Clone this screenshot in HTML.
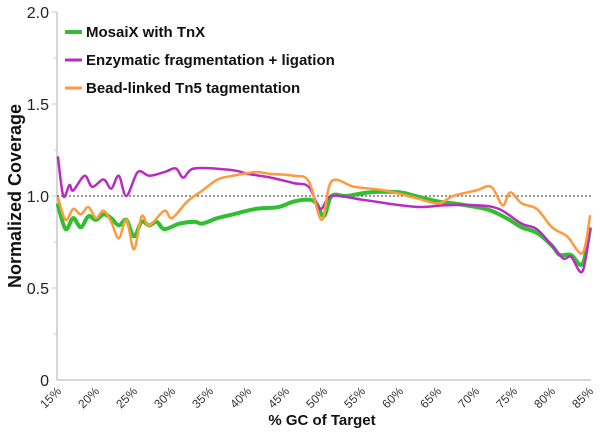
<!DOCTYPE html>
<html><head><meta charset="utf-8"><style>
html,body{margin:0;padding:0;background:#fff;}
svg{display:block;font-family:"Liberation Sans",Arial,sans-serif;}
</style></head><body>
<svg id="s" width="600" height="439" viewBox="0 0 600 439">
<line x1="57" y1="12" x2="57" y2="380" stroke="#c8c8c8" stroke-width="1.5"/>
<line x1="57" y1="380" x2="591" y2="380" stroke="#c8c8c8" stroke-width="1.5"/>
<g stroke="#c8c8c8" stroke-width="1">
<line x1="52" y1="12" x2="57" y2="12"/><line x1="54" y1="58" x2="57" y2="58"/>
<line x1="52" y1="104" x2="57" y2="104"/><line x1="54" y1="150" x2="57" y2="150"/>
<line x1="52" y1="196" x2="57" y2="196"/><line x1="54" y1="242" x2="57" y2="242"/>
<line x1="52" y1="288" x2="57" y2="288"/><line x1="54" y1="334" x2="57" y2="334"/>
</g>
<g font-size="16" fill="#222" text-anchor="end">
<text x="49" y="18">2.0</text><text x="49" y="110">1.5</text>
<text x="49" y="202">1.0</text><text x="49" y="294">0.5</text><text x="49" y="386">0</text>
</g>
<line x1="57" y1="196" x2="591" y2="196" stroke="#333" stroke-width="1" stroke-dasharray="2,2"/>
<g id="xt" font-size="12" fill="#333" text-anchor="end"></g>
<text transform="translate(21,196) rotate(-90)" text-anchor="middle" font-size="18" font-weight="bold" fill="#111">Normalized Coverage</text>
<text x="322" y="425" text-anchor="middle" font-size="15" font-weight="bold" fill="#111">% GC of Target</text>
<g id="lines" fill="none" stroke-linejoin="round" stroke-linecap="round"></g>
<g font-size="15" font-weight="bold" fill="#111">
<line x1="65" y1="32" x2="82" y2="32" stroke="#2fbf2f" stroke-width="4"/>
<text x="86" y="37">MosaiX with TnX</text>
<line x1="65" y1="60" x2="82" y2="60" stroke="#b82cc4" stroke-width="3"/>
<text x="86" y="65">Enzymatic fragmentation + ligation</text>
<line x1="65" y1="88" x2="82" y2="88" stroke="#ff9a3c" stroke-width="3"/>
<text x="86" y="93">Bead-linked Tn5 tagmentation</text>
</g>
</svg>
<script>
var NS="http://www.w3.org/2000/svg";
function X(p){return 58+(p-15)*7.6;}function Y(v){return 380-184*v;}
var xt=document.getElementById('xt');
for(var p=15;p<=85;p+=5){var t=document.createElementNS(NS,'text');var x=X(p)+4,y=392;
t.setAttribute('transform','translate('+x+','+y+') rotate(-45)');t.textContent=p+'%';xt.appendChild(t);}
function path(d){var pts=[];for(var i=0;i<d.length;i+=2)pts.push([X(d[i]),Y(d[i+1])]);
var s='M'+pts[0][0]+','+pts[0][1];
for(var i=0;i<pts.length-1;i++){var p0=pts[i-1]||pts[i],p1=pts[i],p2=pts[i+1],p3=pts[i+2]||p2;
s+=' C'+(p1[0]+(p2[0]-p0[0])/6)+','+(p1[1]+(p2[1]-p0[1])/6)+' '+(p2[0]-(p3[0]-p1[0])/6)+','+(p2[1]-(p3[1]-p1[1])/6)+' '+p2[0]+','+p2[1];}
return s;}
var G=[15,.95,16,.82,17,.88,18,.83,19,.89,20,.87,21,.9,22,.88,23,.84,24,.87,25,.78,26,.86,27,.84,28,.86,29,.82,31,.85,33,.86,34,.85,36,.88,38,.9,41,.93,44,.94,46,.97,48,.98,49,.96,50,.89,51,1.0,53,1.0,56,1.02,60,1.02,62,1.0,65,.97,67,.96,70,.94,72,.92,74,.88,76,.83,78,.8,80,.73,81,.68,82.5,.68,84,.63,85,.82];
var P=[15,1.21,15.7,1.0,16.5,1.06,17,1.03,18.5,1.11,19.5,1.05,21,1.09,22,1.04,23,1.11,24,1.0,25.5,1.13,27,1.11,29,1.13,30.5,1.15,31.5,1.1,33,1.15,38,1.14,40,1.12,43,1.1,46,1.07,48,1.05,49.5,.93,51,1.0,55,.98,60,.95,63,.94,66,.95,70,.95,73,.93,76,.85,78,.82,80,.73,81.5,.66,82.5,.67,84,.59,85,.82];
var O=[15,.99,16,.87,17,.93,18,.9,19,.94,20,.88,21,.92,22,.86,23,.77,24,.87,25,.71,26,.89,27,.84,29,.92,30,.88,32,.97,34,1.03,36,1.09,38,1.11,41,1.13,43,1.12,46,1.11,48,1.08,49.7,.87,51,1.08,54,1.05,58,1.03,62,.99,65,.96,67,1.0,70,1.03,72,1.05,73.5,.95,74.5,1.02,76,.96,78,.93,80,.83,82,.78,84,.69,85,.89];
var L=document.getElementById('lines');
[[G,'#2fbf2f',4],[P,'#b82cc4',2.5],[O,'#ff9a3c',2.5]].forEach(function(a){var e=document.createElementNS(NS,'path');
e.setAttribute('d',path(a[0]));e.setAttribute('stroke',a[1]);e.setAttribute('stroke-width',a[2]);L.appendChild(e);});
</script>
</body></html>
